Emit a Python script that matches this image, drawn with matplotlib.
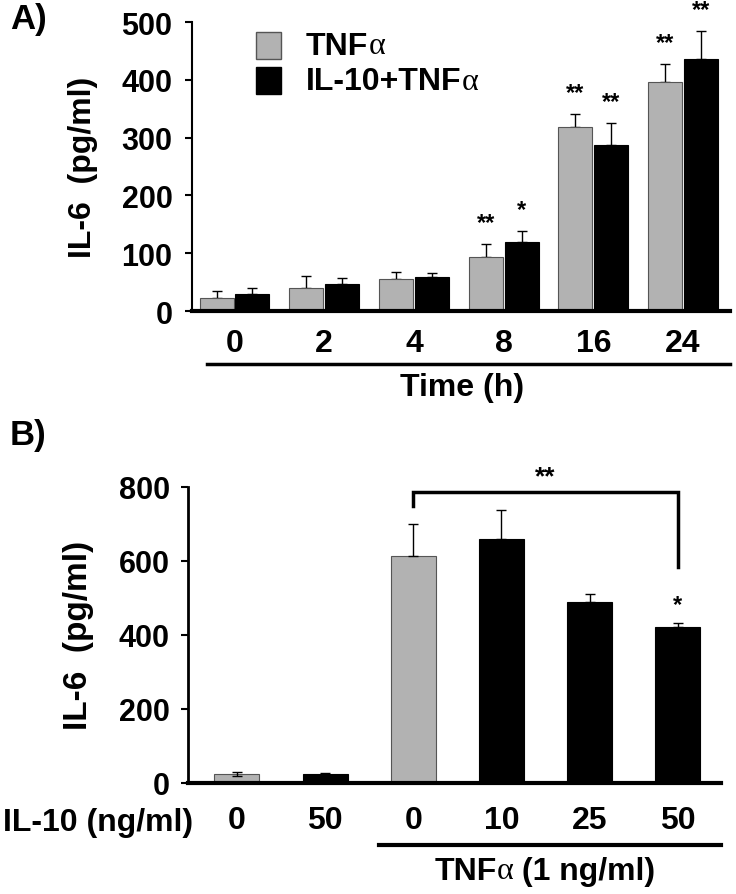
import numpy as np
import matplotlib
matplotlib.use('Agg')
import matplotlib.pyplot as plt
from matplotlib.patches import Rectangle
from matplotlib.lines import Line2D

# fonts: Arial-like bold everywhere, alpha in a thin serif like the Symbol font
plt.rcParams['font.family'] = 'Liberation Sans'
plt.rcParams['font.weight'] = 'bold'
plt.rcParams['axes.labelweight'] = 'bold'

# panel A data: IL-6 over time
times = ['0', '2', '4', '8', '16', '24']
tnf_vals = [22, 39, 56, 94, 319, 397]
tnf_err = [13, 21, 11, 22, 22, 31]
il10_vals = [29, 47, 58, 120, 288, 436]
il10_err = [11, 10, 8, 18, 38, 49]
tnf_stars = ['', '', '', '**', '**', '**']
il10_stars = ['', '', '', '*', '**', '**']

# panel B data: IL-10 dose
dose_labels = ['0', '50', '0', '10', '25', '50']
dose_vals = [24, 25, 614, 659, 490, 421]
dose_err_lo = [6, 3, 0, 0, 0, 0]
dose_err_hi = [6, 3, 84, 79, 19, 12]
dose_colors = ['gray', 'black', 'gray', 'black', 'black', 'black']
dose_stars = ['', '', '', '', '', '*']

GRAY = '#b2b2b2'
W, H = 736, 895


def fx(x):
    return x / W


def fy(y):
    return 1 - y / H


fig = plt.figure(figsize=(7.36, 8.95), dpi=100)
renderer = fig.canvas.get_renderer()


def runs(x0, y0, parts, size, align='left'):
    # draw text pieces one after another (pixel coords), so alpha can use another font
    arts = []
    for s, fam, wt in parts:
        t = fig.text(0, fy(y0), s, fontsize=size, family=fam, weight=wt, va='center')
        arts.append(t)
    widths = [a.get_window_extent(renderer).width for a in arts]
    total = sum(widths)
    x = x0 - total / 2 if align == 'center' else x0
    for a, w in zip(arts, widths):
        a.set_x(fx(x))
        x += w


SANS = 'Liberation Sans'
SERIF = 'Liberation Serif'

# ---------------- panel A ----------------
axA = fig.add_axes([fx(192), fy(312), fx(730 - 192), (312 - 23) / H])
x = np.arange(len(times))
off, bw = 0.2, 0.38
axA.bar(x - off, tnf_vals, bw, color=GRAY, edgecolor='#555555', linewidth=0.8, zorder=2)
axA.bar(x + off, il10_vals, bw, color='black', edgecolor='black', linewidth=0.8, zorder=2)
axA.errorbar(x - off, tnf_vals, yerr=[np.zeros(len(x)), tnf_err], fmt='none',
             ecolor='black', elinewidth=1, capsize=3.5, capthick=1, zorder=1)
axA.errorbar(x + off, il10_vals, yerr=[np.zeros(len(x)), il10_err], fmt='none',
             ecolor='black', elinewidth=1, capsize=3.5, capthick=1, zorder=1)
for i in range(len(x)):
    if tnf_stars[i]:
        axA.annotate(tnf_stars[i], (x[i] - off, tnf_vals[i] + tnf_err[i]),
                     xytext=(0, 7), textcoords='offset points', ha='center',
                     va='bottom', fontsize=17, annotation_clip=False)
    if il10_stars[i]:
        axA.annotate(il10_stars[i], (x[i] + off, il10_vals[i] + il10_err[i]),
                     xytext=(0, 7), textcoords='offset points', ha='center',
                     va='bottom', fontsize=17, annotation_clip=False)

axA.set_xlim(-0.474, 5.524)
axA.set_ylim(0, 500)
axA.set_yticks([0, 100, 200, 300, 400, 500])
axA.set_xticks(x)
axA.set_xticklabels(times)
axA.tick_params(axis='y', labelsize=22, length=5, width=1.5, pad=9)
axA.tick_params(axis='x', labelsize=23, length=0, pad=12)
for s in ['top', 'right']:
    axA.spines[s].set_visible(False)
axA.spines['left'].set_linewidth(1.5)
axA.spines['bottom'].set_linewidth(3)
axA.set_ylabel('IL-6  (pg/ml)', fontsize=23, labelpad=17)

# underline + axis title
fig.add_artist(Line2D([fx(207), fx(730)], [fy(365), fy(365)], color='black', lw=2.5))
fig.text(fx(462), fy(388), 'Time (h)', ha='center', va='center', fontsize=23)

# legend drawn by hand
fig.add_artist(Rectangle((fx(256), fy(60)), fx(25), 27 / H, facecolor=GRAY,
                         edgecolor='#555555', lw=1))
fig.add_artist(Rectangle((fx(256), fy(95)), fx(25), 27 / H, facecolor='black',
                         edgecolor='black', lw=1))
runs(306, 47, [('TNF', SANS, 'bold'), ('\u03b1', SERIF, 'normal')], 23)
runs(306, 82, [('IL-10+TNF', SANS, 'bold'), ('\u03b1', SERIF, 'normal')], 23)

fig.text(fx(10), fy(20), 'A)', ha='left', va='center', fontsize=25)

# ---------------- panel B ----------------
axB = fig.add_axes([fx(188), fy(784), fx(721 - 188), (784 - 487.7) / H])
xb = np.arange(len(dose_labels))
colors = [GRAY if c == 'gray' else 'black' for c in dose_colors]
edges = ['#555555' if c == 'gray' else 'black' for c in dose_colors]
axB.bar(xb, dose_vals, 0.51, color=colors, edgecolor=edges, linewidth=0.8, zorder=2)
axB.errorbar(xb, dose_vals, yerr=[dose_err_lo, dose_err_hi], fmt='none',
             ecolor='black', elinewidth=1, capsize=3.5, capthick=1, zorder=3)
for i in range(len(xb)):
    if dose_stars[i]:
        axB.annotate(dose_stars[i], (xb[i], dose_vals[i] + dose_err_hi[i]),
                     xytext=(0, 5), textcoords='offset points', ha='center',
                     va='bottom', fontsize=17, annotation_clip=False)

# significance bracket between TNF alone and IL-10 50 + TNF
b0, b1 = 2, 5
bracket_top, drop_left, drop_right = 785, 749, 582
axB.plot([b0, b0, b1, b1], [drop_left, bracket_top, bracket_top, drop_right],
         color='black', lw=2.5, clip_on=False, solid_joinstyle='miter')
axB.text((b0 + b1) / 2, bracket_top + 10, '**', ha='center', va='bottom',
         fontsize=19, clip_on=False)

axB.set_xlim(-0.554, 5.489)
axB.set_ylim(0, 800)
axB.set_yticks([0, 200, 400, 600, 800])
axB.set_xticks(xb)
axB.set_xticklabels(dose_labels)
axB.tick_params(axis='y', labelsize=22, length=5, width=1.5, pad=8)
axB.tick_params(axis='x', labelsize=23, length=0, pad=16)
for s in ['top', 'right']:
    axB.spines[s].set_visible(False)
axB.spines['left'].set_linewidth(2)
axB.spines['bottom'].set_linewidth(3)
axB.set_ylabel('IL-6  (pg/ml)', fontsize=24, labelpad=18)

fig.text(fx(3), fy(823), 'IL-10 (ng/ml)', ha='left', va='center', fontsize=23)
fig.add_artist(Line2D([fx(379), fx(721)], [fy(846), fy(846)], color='black', lw=3))
runs(545, 872, [('TNF', SANS, 'bold'), ('\u03b1', SERIF, 'normal'),
                (' (1 ng/ml)', SANS, 'bold')], 23, align='center')

fig.text(fx(10), fy(436), 'B)', ha='left', va='center', fontsize=25)

fig.savefig('out.png', dpi=100)
